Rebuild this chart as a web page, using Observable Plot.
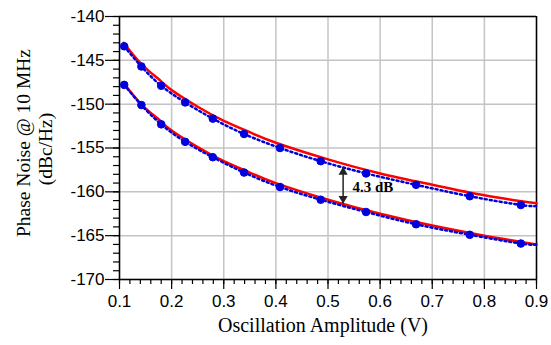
<!DOCTYPE html>
<html>
<head>
<meta charset="utf-8">
<script src="https://cdn.jsdelivr.net/npm/d3@7"></script>
<script src="https://cdn.jsdelivr.net/npm/@observablehq/plot@0.6"></script>
<style>
  html, body { margin: 0; padding: 0; background: #fff; }
  #chart { width: 551px; height: 345px; }
</style>
</head>
<body>
<div id="chart"></div>
<script>
// Measured (blue markers) — oscillation amplitude (V)
const ampMeas = [0.109, 0.142, 0.180, 0.226, 0.279, 0.339, 0.408, 0.486, 0.573, 0.669, 0.772, 0.870];
const upperMeas = [-143.4, -145.7, -147.9, -149.8, -151.65, -153.4, -155.0, -156.5, -157.9, -159.2, -160.5, -161.5];
const lowerMeas = [-147.8, -150.1, -152.3, -154.3, -156.05, -157.8, -159.45, -160.9, -162.3, -163.7, -164.9, -165.9];
// dotted blue line end at 0.9
const dottedEndX = 0.9;
const upperDottedEnd = -161.6;
const lowerDottedEnd = -166.0;

// Red solid curves, read at these amplitudes
const ampFit = [0.108, 0.12, 0.14, 0.16, 0.18, 0.2, 0.25, 0.3, 0.35, 0.4, 0.5, 0.6, 0.7, 0.8, 0.9];
const upperFit = [-143.0, -143.9, -145.3, -146.4, -147.4, -148.4, -150.3, -151.9, -153.2, -154.4, -156.3, -157.9, -159.2, -160.4, -161.3];
const lowerFit = [-147.6, -148.5, -149.9, -151.0, -152.0, -153.0, -154.9, -156.5, -157.8, -159.0, -160.9, -162.5, -163.85, -165.0, -166.0];

// Axis ticks
const xTicks = [0.1, 0.2, 0.3, 0.4, 0.5, 0.6, 0.7, 0.8, 0.9];
const yTicks = [-140, -145, -150, -155, -160, -165, -170];
const xMinor = d3.range(0, 41).map(i => 0.1 + i * 0.02).filter(v => v <= 0.9001);
const yMinor = d3.range(-170, -139, 1);

// Annotation
const annotX = 0.529;
const annotTop = -157.17;
const annotBottom = -161.34;
const annotLabel = "4.3 dB";
const annotLabelX = 0.547;
const annotLabelY = -159.5;

const xTitle = "Oscillation Amplitude (V)";
const yTitle1 = "Phase Noise @ 10 MHz";
const yTitle2 = "(dBc/Hz)";

const meas = [
  ...ampMeas.map((x, i) => ({x, y: upperMeas[i], s: "upper"})),
  ...ampMeas.map((x, i) => ({x, y: lowerMeas[i], s: "lower"}))
];
const dotted = [
  ...ampMeas.map((x, i) => ({x, y: upperMeas[i], s: "upper"})), {x: dottedEndX, y: upperDottedEnd, s: "upper"},
  ...ampMeas.map((x, i) => ({x, y: lowerMeas[i], s: "lower"})), {x: dottedEndX, y: lowerDottedEnd, s: "lower"}
];
const fit = [
  ...ampFit.map((x, i) => ({x, y: upperFit[i], s: "upper"})),
  ...ampFit.map((x, i) => ({x, y: lowerFit[i], s: "lower"}))
];

const serif = "'Liberation Serif', 'Times New Roman', serif";
const sans = "'Liberation Sans', Arial, sans-serif";
const blue = "#0000dd";

const chart = Plot.plot({
  width: 551,
  height: 345,
  marginLeft: 119,
  marginRight: 15,
  marginTop: 16,
  marginBottom: 66,
  style: {fontFamily: sans, fontSize: "17px", background: "#fff", color: "#000"},
  x: {domain: [0.1, 0.9], axis: null},
  y: {domain: [-170, -140], axis: null},
  marks: [
    Plot.gridX(xTicks, {stroke: "#c4c4c4", strokeOpacity: 1, strokeWidth: 1.5}),
    Plot.gridY(yTicks, {stroke: "#c4c4c4", strokeOpacity: 1, strokeWidth: 1.5}),
    Plot.axisX(xMinor, {tickSize: 5, text: null, label: null, strokeWidth: 1.2}),
    Plot.axisX(xTicks, {tickSize: 10, tickPadding: 5, tickFormat: d => String(d), fontSize: 17, fontFamily: sans, label: null, strokeWidth: 1.2}),
    Plot.axisY(yMinor, {tickSize: 6, text: null, label: null, strokeWidth: 1.2}),
    Plot.axisY(yTicks, {tickSize: 14, tickPadding: 1, tickFormat: d => String(d), fontSize: 17, fontFamily: sans, label: null, strokeWidth: 1.2}),
    Plot.ruleX([0.1, 0.9], {stroke: "#000", strokeWidth: 1.5}),
    Plot.ruleY([-170, -140], {stroke: "#000", strokeWidth: 1.5}),
    Plot.line(fit, {x: "x", y: "y", z: "s", stroke: "#ff0000", strokeWidth: 2.5, curve: "natural"}),
    Plot.line(dotted, {x: "x", y: "y", z: "s", stroke: blue, strokeWidth: 2.5, strokeDasharray: "2,3", curve: "natural"}),
    Plot.dot(meas, {x: "x", y: "y", r: 3.8, fill: blue, stroke: blue, strokeWidth: 1}),
    Plot.link([{x: annotX, y1: annotTop, y2: annotBottom}], {x1: "x", x2: "x", y1: "y1", y2: "y2", stroke: "#222", strokeWidth: 1.5}),
    Plot.dot([{x: annotX, y: annotTop}], {x: "x", y: "y", dy: 5, symbol: "triangle", r: 3.4, fill: "#222", stroke: "none"}),
    Plot.dot([{x: annotX, y: annotBottom}], {x: "x", y: "y", dy: -5, symbol: "triangle", rotate: 180, r: 3.4, fill: "#222", stroke: "none"}),
    Plot.text([annotLabel], {x: annotLabelX, y: annotLabelY, text: d => d, textAnchor: "start", fontWeight: "bold", fontSize: 15, fontFamily: serif, fill: "#000"}),
    Plot.text([xTitle], {frameAnchor: "bottom", text: d => d, dy: 52, dx: -5, fontSize: 20, fontFamily: serif, fill: "#000"}),
    Plot.text([yTitle1], {frameAnchor: "left", textAnchor: "middle", text: d => d, rotate: -90, dx: -96, dy: -5, fontSize: 19.5, fontFamily: serif, fill: "#000"}),
    Plot.text([yTitle2], {frameAnchor: "left", textAnchor: "middle", text: d => d, rotate: -90, dx: -74, dy: 1, fontSize: 19.5, fontFamily: serif, fill: "#000"})
  ]
});
document.getElementById("chart").appendChild(chart);
</script>
</body>
</html>
